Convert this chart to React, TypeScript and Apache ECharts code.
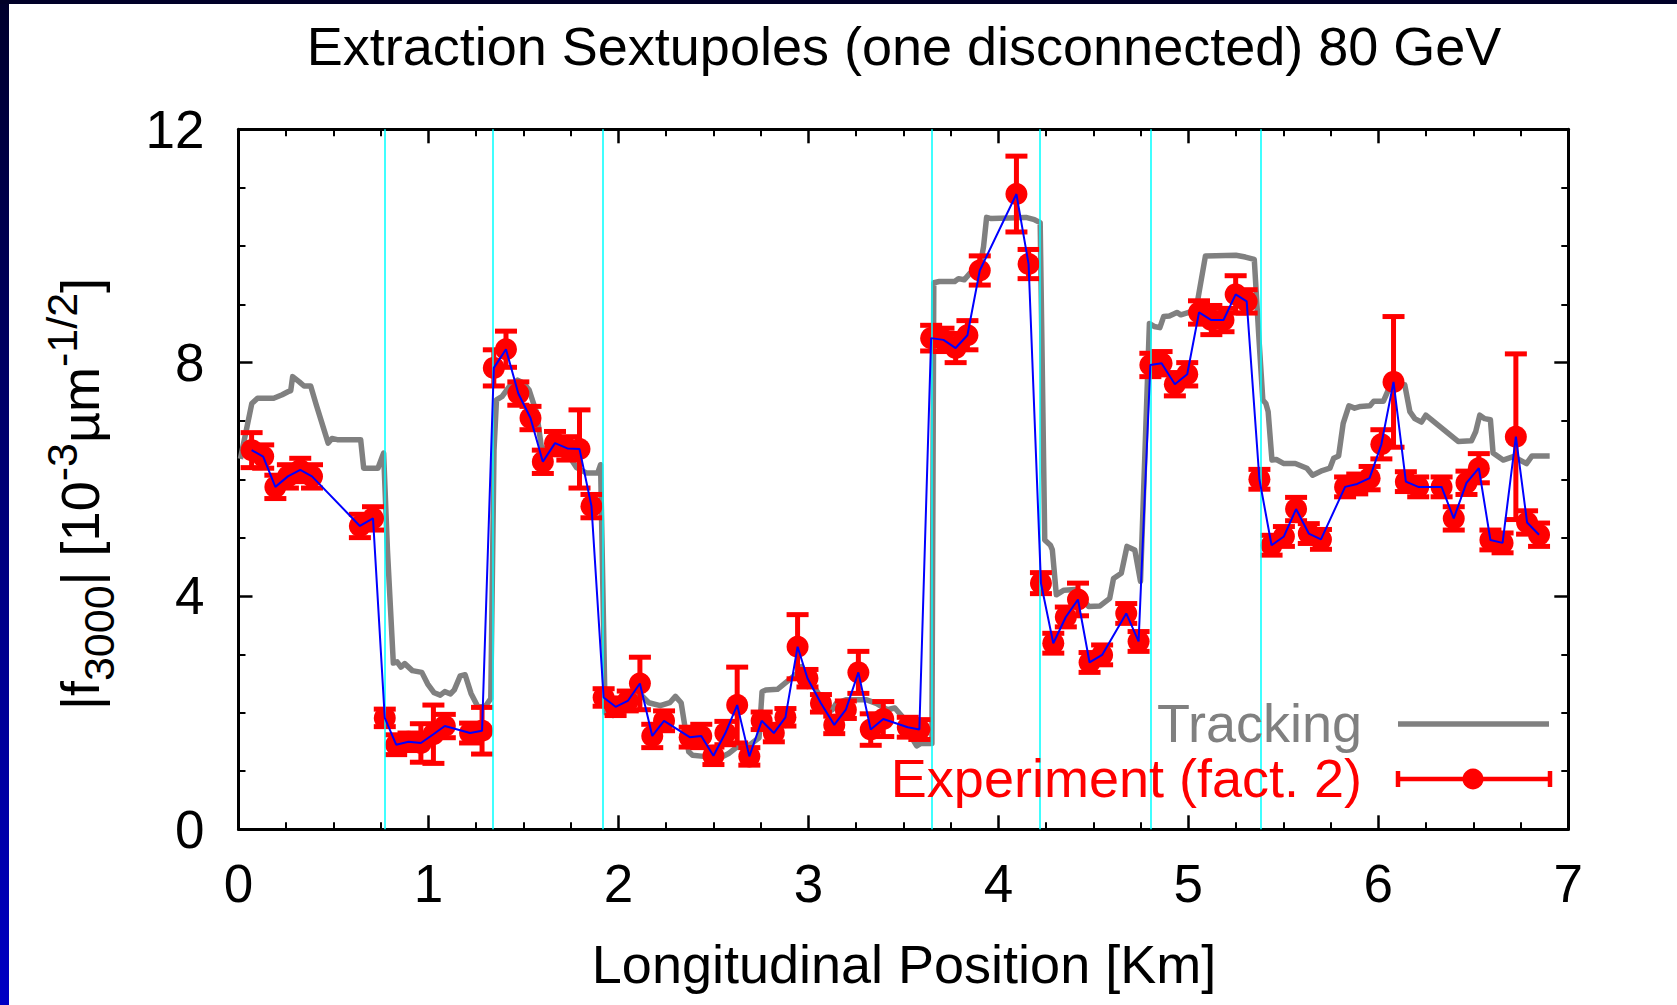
import React, { useEffect, useRef } from 'react';
import * as echarts from 'echarts';

const TITLE = 'Extraction Sextupoles (one disconnected) 80 GeV';
const X_NAME = 'Longitudinal Position [Km]';
const LEGEND_TRACK = 'Tracking';
const LEGEND_EXP = 'Experiment (fact. 2)';

const X_MIN = 0, X_MAX = 7, X_STEP = 1;
const Y_MIN = 0, Y_MAX = 12, Y_STEP = 4;

const SECTOR_LINES = [0.768, 1.344, 1.92, 3.648, 4.224, 4.8, 5.376];

const TRACK_X = [
  0.01, 0.07, 0.1, 0.185, 0.23, 0.26, 0.275, 0.285, 0.32, 0.345, 0.38, 0.41, 0.472, 0.492, 0.52, 0.643, 0.659, 0.734, 0.764,
  0.784, 0.815, 0.835, 0.855, 0.875, 0.915, 0.965, 0.996, 1.03, 1.062, 1.086, 1.116, 1.136, 1.167, 1.193, 1.224, 1.26, 1.298, 1.328,
  1.345, 1.358, 1.388, 1.428, 1.469, 1.5, 1.53, 1.57, 1.594, 1.63, 1.68, 1.75, 1.78, 1.83, 1.891, 1.906,
  1.93, 1.97, 2.0, 2.033, 2.08, 2.12, 2.16, 2.22, 2.27, 2.3, 2.33, 2.35, 2.37, 2.39, 2.45, 2.52, 2.58, 2.62, 2.68, 2.74,
  2.756, 2.776, 2.837, 2.898, 2.94, 2.965, 3.005, 3.056, 3.126, 3.147, 3.197, 3.307, 3.357, 3.414, 3.455, 3.495, 3.535, 3.57, 3.59, 3.65,
  3.66, 3.689, 3.77, 3.79, 3.82, 3.85, 3.9, 3.922, 3.938, 3.962, 4.145, 4.19, 4.22,
  4.244, 4.274, 4.284, 4.305, 4.345, 4.405, 4.475, 4.535, 4.586, 4.606, 4.647, 4.677, 4.718, 4.748,
  4.795, 4.82, 4.85, 4.87, 4.9, 4.94, 4.96, 4.99, 5.04, 5.09, 5.25, 5.3, 5.347,
  5.372, 5.392, 5.408, 5.42, 5.44, 5.463, 5.503, 5.563, 5.624, 5.654, 5.705, 5.745, 5.765, 5.791, 5.815, 5.845, 5.875, 5.906, 5.956,
  5.976, 6.027, 6.047, 6.065, 6.139, 6.166, 6.192, 6.227, 6.25, 6.42, 6.49, 6.513, 6.534, 6.56, 6.59, 6.604, 6.657, 6.71, 6.78, 6.809, 6.902,
];
const TRACK_Y = [
  6.35, 7.3, 7.39, 7.39, 7.45, 7.5, 7.52, 7.76, 7.67, 7.6, 7.6, 7.27, 6.62, 6.7, 6.68, 6.68, 6.19, 6.19, 6.45,
  4.79, 2.85, 2.87, 2.78, 2.84, 2.72, 2.69, 2.49, 2.34, 2.3, 2.36, 2.32, 2.39, 2.63, 2.65, 2.33, 2.1, 2.1, 2.24,
  6.5, 7.36, 7.42, 7.6, 7.7, 7.65, 7.53, 7.13, 6.56, 6.45, 6.55, 6.35, 6.2, 6.11, 6.11, 6.25,
  2.0, 1.95, 1.98, 2.1, 2.25, 2.3, 2.17, 2.12, 2.17, 2.28, 2.17, 1.76, 1.33, 1.27, 1.25, 1.2, 1.3, 1.4, 1.42, 1.57,
  2.36, 2.39, 2.4, 2.56, 2.67, 2.79, 2.57, 2.31, 2.05, 2.16, 2.22, 2.22, 2.16, 2.05, 2.08, 1.93, 1.62, 1.43, 1.47, 1.47,
  9.37, 9.39, 9.39, 9.44, 9.42, 9.53, 9.59, 9.99, 10.49, 10.47, 10.49, 10.45, 10.4,
  4.96, 4.87, 4.79, 4.02, 4.1, 4.11, 3.82, 3.83, 3.96, 4.3, 4.39, 4.85, 4.79, 4.25,
  8.67, 8.62, 8.6, 8.79, 8.8, 8.86, 8.82, 8.85, 8.9, 9.83, 9.84, 9.81, 9.77,
  8.39, 7.36, 7.3, 7.16, 6.33, 6.34, 6.27, 6.27, 6.19, 6.07, 6.15, 6.19, 6.36, 6.4, 6.96, 7.26, 7.22, 7.25, 7.26,
  7.34, 7.34, 7.49, 7.62, 7.62, 7.16, 7.04, 6.98, 7.1, 6.65, 6.66, 6.82, 7.1, 7.04, 7.02, 6.45, 6.33, 6.39, 6.27, 6.4, 6.4,
];

const EXP_X = [
  0.069, 0.13, 0.194, 0.26, 0.325, 0.387, 0.639, 0.708, 0.77, 0.83, 0.895, 0.96, 1.026, 1.086, 1.219, 1.282,
  1.344, 1.408, 1.473, 1.537, 1.602, 1.666, 1.731, 1.795, 1.858,
  1.922, 1.985, 2.049, 2.113, 2.178, 2.24, 2.375, 2.436, 2.5, 2.563, 2.625, 2.689, 2.754, 2.818, 2.879, 2.943,
  2.995, 3.066, 3.136, 3.197, 3.263, 3.328, 3.394, 3.523, 3.584,
  3.646, 3.711, 3.775, 3.837, 3.902, 4.095, 4.159,
  4.224, 4.289, 4.355, 4.419, 4.48, 4.546, 4.673, 4.738,
  4.8, 4.859, 4.929, 4.994, 5.056, 5.121, 5.185, 5.249, 5.307,
  5.374, 5.438, 5.503, 5.567, 5.634, 5.698, 5.825, 5.889, 5.954, 6.016, 6.08, 6.145, 6.21, 6.333, 6.397, 6.464, 6.529,
  6.59, 6.654, 6.724, 6.783, 6.846,
];
const EXP_Y = [
  6.5, 6.39, 5.87, 6.05, 6.16, 6.05, 5.2, 5.33, 1.91, 1.45, 1.5, 1.48, 1.63, 1.77, 1.65, 1.69,
  7.91, 8.23, 7.47, 7.05, 6.3, 6.62, 6.53, 6.52, 5.54,
  2.26, 2.1, 2.2, 2.5, 1.6, 1.86, 1.58, 1.6, 1.26, 1.65, 2.13, 1.25, 1.86, 1.65, 1.92, 3.13,
  2.59, 2.16, 1.79, 2.05, 2.69, 1.71, 1.89, 1.75, 1.71,
  8.42, 8.39, 8.25, 8.47, 9.58, 10.89, 9.69,
  4.22, 3.19, 3.64, 3.94, 2.86, 2.99, 3.7, 3.22,
  7.96, 7.99, 7.63, 7.8, 8.86, 8.73, 8.73, 9.17, 9.05,
  6.0, 4.87, 5.02, 5.49, 5.07, 4.97, 5.87, 5.92, 6.02, 6.6, 7.67, 5.96, 5.87, 5.87, 5.33, 5.94, 6.19,
  4.96, 4.91, 6.73, 5.26, 5.05,
];
const EXP_ERR = [
  0.3, 0.2, 0.2, 0.2, 0.2, 0.2, 0.2, 0.2, 0.15, 0.17, 0.15, 0.33, 0.5, 0.2, 0.17, 0.4,
  0.31, 0.31, 0.2, 0.2, 0.2, 0.2, 0.2, 0.67, 0.2,
  0.15, 0.15, 0.17, 0.45, 0.2, 0.17, 0.17, 0.2, 0.15, 0.2, 0.65, 0.15, 0.15, 0.15, 0.15, 0.55,
  0.15, 0.15, 0.15, 0.15, 0.36, 0.27, 0.3, 0.17, 0.17,
  0.22, 0.2, 0.25, 0.25, 0.25, 0.65, 0.25,
  0.18, 0.17, 0.17, 0.28, 0.17, 0.17, 0.17, 0.17,
  0.2, 0.2, 0.2, 0.2, 0.2, 0.25, 0.2, 0.32, 0.2,
  0.17, 0.17, 0.17, 0.2, 0.17, 0.17, 0.17, 0.17, 0.2, 0.25, 1.12, 0.17, 0.17, 0.17, 0.2, 0.2, 0.25,
  0.17, 0.17, 1.42, 0.2, 0.2,
];

const FONT = '"Liberation Sans", Arial, Helvetica, sans-serif';

export default function App() {
  const ref = useRef<HTMLDivElement>(null);

  useEffect(() => {
    if (!ref.current) return;
    const chart = echarts.init(ref.current, undefined, { renderer: 'svg' });

    const track = TRACK_X.map((x, i) => [x, TRACK_Y[i]]);
    const exp = EXP_X.map((x, i) => [x, EXP_Y[i]]);
    const errs = EXP_X.map((x, i) => [x, EXP_Y[i] - EXP_ERR[i], EXP_Y[i] + EXP_ERR[i]]);

    const axisLine = { show: true, onZero: false, lineStyle: { color: '#000', width: 3 } };
    const axisTick = { show: true, inside: true, length: 14, lineStyle: { color: '#000', width: 2.5 } };
    const minorTick = { show: true, splitNumber: 4, length: 7, lineStyle: { color: '#000', width: 2 } };

    const errStyle = { stroke: '#ff0000', lineWidth: 5 };

    const option: any = {
      animation: false,
      backgroundColor: '#ffffff',
      grid: { left: 238.5, right: 108.7, top: 129.3, bottom: 175.7, containLabel: false },
      xAxis: [
        {
          type: 'value', min: X_MIN, max: X_MAX, interval: X_STEP, position: 'bottom',
          axisLine, axisTick, minorTick, splitLine: { show: false },
          axisLabel: { color: '#000', fontSize: 53, fontFamily: FONT, margin: 28 },
        },
        {
          type: 'value', min: X_MIN, max: X_MAX, interval: X_STEP, position: 'top',
          axisLine, axisTick, minorTick, splitLine: { show: false }, axisLabel: { show: false },
        },
      ],
      yAxis: [
        {
          type: 'value', min: Y_MIN, max: Y_MAX, interval: Y_STEP, position: 'left',
          axisLine, axisTick, minorTick, splitLine: { show: false },
          axisLabel: { color: '#000', fontSize: 53, fontFamily: FONT, margin: 34 },
        },
        {
          type: 'value', min: Y_MIN, max: Y_MAX, interval: Y_STEP, position: 'right',
          axisLine, axisTick, minorTick, splitLine: { show: false }, axisLabel: { show: false },
        },
      ],
      series: [
        {
          type: 'line', data: [], z: 1, silent: true,
          markLine: {
            silent: true, symbol: ['none', 'none'], label: { show: false },
            lineStyle: { color: '#00ffff', width: 1.5, type: 'solid' },
            emphasis: { disabled: true },
            data: SECTOR_LINES.map((v) => ({ xAxis: v })),
          },
        },
        {
          type: 'line', data: track, z: 2, showSymbol: false, silent: true,
          lineStyle: { color: '#808080', width: 5.5, join: 'round' },
        },
        {
          type: 'custom', data: errs, z: 3, silent: true,
          encode: { x: 0, y: [1, 2] },
          renderItem: (_p: any, api: any) => {
            const lo = api.coord([api.value(0), api.value(1)]);
            const hi = api.coord([api.value(0), api.value(2)]);
            const cw = 11;
            return {
              type: 'group',
              children: [
                { type: 'line', shape: { x1: lo[0], y1: lo[1], x2: hi[0], y2: hi[1] }, style: errStyle },
                { type: 'line', shape: { x1: lo[0] - cw, y1: lo[1], x2: lo[0] + cw, y2: lo[1] }, style: errStyle },
                { type: 'line', shape: { x1: hi[0] - cw, y1: hi[1], x2: hi[0] + cw, y2: hi[1] }, style: errStyle },
              ],
            };
          },
        },
        {
          type: 'scatter', data: exp, z: 4, silent: true, symbol: 'circle', symbolSize: 22,
          itemStyle: { color: '#ff0000', opacity: 1 },
        },
        {
          type: 'line', data: exp, z: 5, showSymbol: false, silent: true,
          lineStyle: { color: '#0000ff', width: 2 },
        },
      ],
      graphic: [
        {
          type: 'rect', left: 0, top: 0, z: 100, silent: true,
          shape: { x: 0, y: 0, width: 9, height: 1005 },
          style: {
            fill: new echarts.graphic.LinearGradient(0, 0, 0, 1, [
              { offset: 0, color: '#00002c' },
              { offset: 1, color: '#0000c4' },
            ]),
          },
        },
        {
          type: 'rect', left: 0, top: 0, z: 100, silent: true,
          shape: { x: 0, y: 0, width: 1677, height: 4 },
          style: { fill: '#000028' },
        },
        {
          type: 'text', x: 904, y: 46, z: 50, silent: true,
          style: { text: TITLE, fill: '#000', font: `54px ${FONT}`, align: 'center', verticalAlign: 'middle' },
        },
        {
          type: 'text', x: 904, y: 964, z: 50, silent: true,
          style: { text: X_NAME, fill: '#000', font: `54px ${FONT}`, align: 'center', verticalAlign: 'middle' },
        },
        {
          type: 'text', x: 80, y: 494, z: 50, rotation: Math.PI / 2, silent: true,
          style: {
            text: '{n||f}{sub|3000}{n|| [10}{sup|-3}{n|µm}{sup|-1/2}{n|]}',
            align: 'center', verticalAlign: 'middle', fill: '#000',
            rich: {
              n: { fontSize: 54, lineHeight: 80, fontFamily: FONT, fill: '#000' },
              sub: { fontSize: 43, lineHeight: 40, fontFamily: FONT, verticalAlign: 'bottom', fill: '#000' },
              sup: { fontSize: 43, lineHeight: 40, fontFamily: FONT, verticalAlign: 'top', fill: '#000' },
            },
          },
        },
        {
          type: 'text', x: 1362, y: 723, z: 50, silent: true,
          style: { text: LEGEND_TRACK, fill: '#808080', font: `54px ${FONT}`, align: 'right', verticalAlign: 'middle' },
        },
        {
          type: 'line', z: 50, silent: true,
          shape: { x1: 1398, y1: 724, x2: 1549, y2: 724 },
          style: { stroke: '#808080', lineWidth: 5.5 },
        },
        {
          type: 'text', x: 1362, y: 778, z: 50, silent: true,
          style: { text: LEGEND_EXP, fill: '#ff0000', font: `54px ${FONT}`, align: 'right', verticalAlign: 'middle' },
        },
        {
          type: 'group', z: 50, silent: true,
          children: [
            { type: 'line', shape: { x1: 1398, y1: 779, x2: 1550, y2: 779 }, style: { stroke: '#ff0000', lineWidth: 4.5 } },
            { type: 'line', shape: { x1: 1398, y1: 771, x2: 1398, y2: 787 }, style: { stroke: '#ff0000', lineWidth: 4.5 } },
            { type: 'line', shape: { x1: 1550, y1: 771, x2: 1550, y2: 787 }, style: { stroke: '#ff0000', lineWidth: 4.5 } },
            { type: 'circle', shape: { cx: 1473, cy: 779, r: 10.5 }, style: { fill: '#ff0000' } },
          ],
        },
      ],
    };

    chart.setOption(option);
    return () => chart.dispose();
  }, []);

  return (
    <div
      ref={ref}
      style={{ position: 'fixed', left: 0, top: 0, width: 1677, height: 1005, background: '#fff' }}
    />
  );
}
